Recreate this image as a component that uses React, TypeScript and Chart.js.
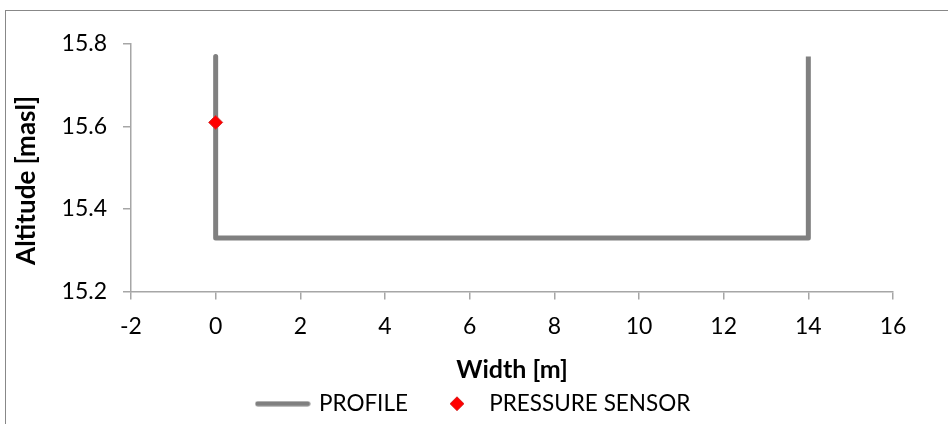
import React, { useEffect, useRef } from "react";
import { Chart, registerables } from "chart.js";

Chart.register(...registerables);

// ---- data ----
const profileX = [0, 0, 14, 14];
const profileY = [15.77, 15.33, 15.33, 15.77];
const sensorX = [0];
const sensorY = [15.61];
const xTicks = [-2, 0, 2, 4, 6, 8, 10, 12, 14, 16];
const yTicks = [15.2, 15.4, 15.6, 15.8];
const seriesNames = ["PROFILE", "PRESSURE SENSOR"];
const xTitle = "Width [m]";
const yTitle = "Altitude [masl]";

const FONT = "Lato";
const GRAY = "#808080";
const AXIS = "#A6A6A6";

function makeLineIcon(): HTMLCanvasElement {
  const c = document.createElement("canvas");
  c.width = 56;
  c.height = 6;
  const ctx = c.getContext("2d")!;
  ctx.strokeStyle = GRAY;
  ctx.lineWidth = 5;
  ctx.lineCap = "round";
  ctx.beginPath();
  ctx.moveTo(3, 3);
  ctx.lineTo(53, 3);
  ctx.stroke();
  return c;
}

function makeDiamondIcon(): HTMLCanvasElement {
  const c = document.createElement("canvas");
  c.width = 34;
  c.height = 16;
  const ctx = c.getContext("2d")!;
  const cx = 21;
  ctx.fillStyle = "#FF0000";
  ctx.strokeStyle = "#D83030";
  ctx.lineWidth = 1;
  ctx.beginPath();
  ctx.moveTo(cx, 1);
  ctx.lineTo(cx + 7, 8);
  ctx.lineTo(cx, 15);
  ctx.lineTo(cx - 7, 8);
  ctx.closePath();
  ctx.fill();
  ctx.stroke();
  return c;
}

export default function App() {
  const ref = useRef<HTMLCanvasElement | null>(null);

  useEffect(() => {
    if (!ref.current) return;
    const icons = [makeLineIcon(), makeDiamondIcon()];
    const chart = new Chart(ref.current, {
      type: "scatter",
      data: {
        datasets: [
          {
            label: seriesNames[0],
            data: profileX.map((x, i) => ({ x, y: profileY[i] })),
            showLine: true,
            borderColor: GRAY,
            backgroundColor: GRAY,
            borderWidth: 5,
            borderJoinStyle: "round",
            borderCapStyle: "butt",
            pointRadius: 0,
            pointHoverRadius: 0,
            order: 2,
          },
          {
            label: seriesNames[1],
            data: sensorX.map((x, i) => ({ x, y: sensorY[i] })),
            showLine: false,
            pointStyle: "rectRot",
            pointRadius: 7,
            backgroundColor: "#FF0000",
            borderColor: "#D83030",
            borderWidth: 1,
            order: 1,
          },
        ],
      },
      options: {
        animation: false,
        responsive: false,
        maintainAspectRatio: false,
        layout: { padding: { left: 0, right: 0, top: 44, bottom: -1 } },
        scales: {
          x: {
            type: "linear",
            position: "bottom",
            min: -2,
            max: 16,
            afterBuildTicks: (s: any) => {
              s.ticks = xTicks.map((v) => ({ value: v }));
            },
            afterFit: (s: any) => {
              s.height = 81;
            },
            grid: {
              drawOnChartArea: false,
              drawTicks: true,
              tickLength: 8,
              color: AXIS,
              lineWidth: 1.5,
            },
            border: { color: AXIS, width: 1.5 },
            ticks: {
              color: "#000",
              padding: 13,
              maxRotation: 0,
              font: { family: FONT, size: 23 },
              callback: (v: any) => String(v),
            },
            title: {
              display: true,
              text: xTitle,
              color: "#000",
              font: { family: FONT, size: 25, weight: "bold" },
              padding: { top: 0, bottom: -12 },
            },
          },
          y: {
            type: "linear",
            position: "left",
            min: 15.2,
            max: 15.8,
            afterBuildTicks: (s: any) => {
              s.ticks = yTicks.map((v) => ({ value: v }));
            },
            afterFit: (s: any) => {
              s.width = 131;
            },
            grid: {
              drawOnChartArea: false,
              drawTicks: true,
              tickLength: 8,
              color: AXIS,
              lineWidth: 1.5,
            },
            border: { color: AXIS, width: 1.5 },
            ticks: {
              color: "#000",
              padding: 16,
              font: { family: FONT, size: 23 },
              callback: (v: any) => Number(v).toFixed(1),
            },
            title: {
              display: true,
              text: yTitle + "    ",
              color: "#000",
              font: { family: FONT, size: 26, weight: "bold" },
              padding: { top: 11, bottom: 0 },
            },
          },
          r2: {
            type: "linear",
            position: "right",
            display: true,
            grid: { display: false, drawTicks: false },
            border: { display: false },
            ticks: { display: false },
            afterFit: (s: any) => {
              s.width = 55;
            },
          },
        },
        plugins: {
          tooltip: { enabled: false },
          legend: {
            display: true,
            position: "bottom",
            labels: {
              usePointStyle: true,
              pointStyleWidth: 50,
              padding: 20,
              color: "#000",
              font: { family: FONT, size: 22.5 },
              sort: (a: any, b: any) => a.datasetIndex - b.datasetIndex,
              generateLabels: (c: any) => {
                const items = Chart.defaults.plugins.legend.labels.generateLabels(c);
                return items.map((it: any) => ({
                  ...it,
                  text: seriesNames[it.datasetIndex],
                  pointStyle: icons[it.datasetIndex],
                  fontColor: "#000",
                }));
              },
            },
          },
        },
      },
    } as any);
    return () => chart.destroy();
  }, []);

  return (
    <div>
      <div
        style={{
          position: "fixed",
          left: 5,
          top: 10,
          width: 980,
          height: 440,
          border: "1.5px solid #888888",
          boxSizing: "border-box",
        }}
      />
      <canvas
        ref={ref}
        width={948}
        height={424}
        style={{ position: "fixed", left: 0, top: 0, width: 948, height: 424 }}
      />
    </div>
  );
}
